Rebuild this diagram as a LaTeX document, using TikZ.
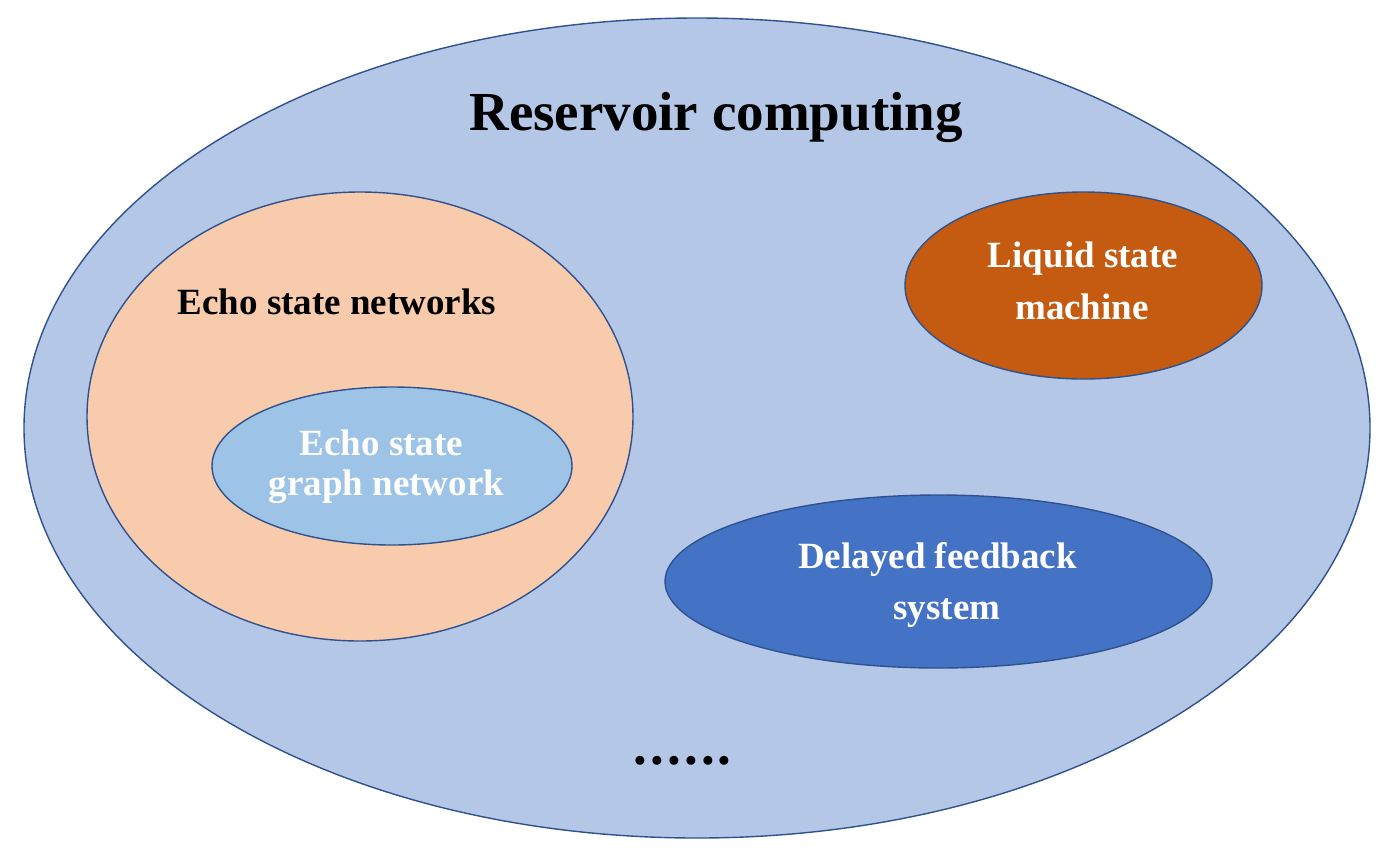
\documentclass[tikz,border=0pt]{standalone}
\usepackage{fontspec}
\setmainfont{Liberation Serif}
\usetikzlibrary{shapes.geometric}
\definecolor{outerfill}{HTML}{B4C7E7}
\definecolor{edgeblue}{HTML}{2F528F}
\definecolor{esnfill}{HTML}{F8CBAD}
\definecolor{esgnfill}{HTML}{9DC3E6}
\definecolor{lsmfill}{HTML}{C55A11}
\definecolor{dfsfill}{HTML}{4472C4}
\begin{document}
\begin{tikzpicture}[x=1pt,y=-1pt,
  blob/.style={ellipse, draw=edgeblue, line width=1.4pt, inner sep=0pt},
  lbl/.style={anchor=base, inner sep=0pt, font=\bfseries\fontsize{37}{40}\selectfont},
  big/.style={anchor=base, inner sep=0pt, font=\bfseries\fontsize{55}{60}\selectfont},
]
\useasboundingbox (0,0) rectangle (1388,855);
\node[blob, fill=outerfill, minimum width=1346pt, minimum height=820pt] (rc) at (697,428) {};
\node[blob, fill=esnfill, minimum width=546pt, minimum height=449pt] (esn) at (360,416.5) {};
\node[blob, fill=esgnfill, minimum width=360pt, minimum height=158pt] (esgn) at (392,466) {};
\node[blob, fill=lsmfill, minimum width=357pt, minimum height=187pt] (lsm) at (1083.5,285.5) {};
\node[blob, fill=dfsfill, minimum width=547pt, minimum height=173pt] (dfs) at (938.5,581.5) {};

\node[big] (title) at (716,130) {Reservoir computing};
\node[lbl] (esnA) at (337,314) {Echo state networks};
\node[lbl, text=white] (esgnA) at (381.5,455) {Echo state};
\node[lbl, text=white] (esgnB) at (386.5,495) {graph network};
\node[lbl, text=white] (lsmA) at (1083,267) {Liquid state};
\node[lbl, text=white] (lsmB) at (1082,319) {machine};
\node[lbl, text=white] (dfsA) at (937.5,568) {Delayed feedback};
\node[lbl, text=white] (dfsB) at (947,619) {system};
\node[big] (dots) at (682.5,764) {.\kern3.2pt.\kern3.2pt.\kern3.2pt.\kern3.2pt.\kern3.2pt.};
\end{tikzpicture}
\end{document}
